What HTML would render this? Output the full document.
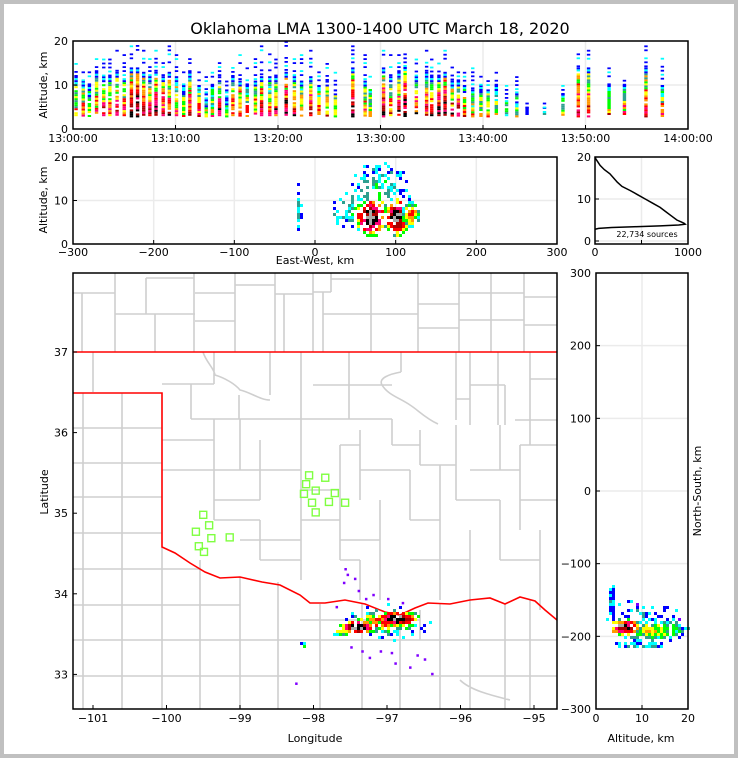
<!DOCTYPE html>
<html><head><meta charset="utf-8"><style>
html,body{margin:0;padding:0;background:#c0c0c0;}
svg{display:block;font-family:"DejaVu Sans","Liberation Sans",sans-serif;}
</style></head><body>
<svg id="fig" width="738" height="758" viewBox="0 0 738 758">
<rect x="4" y="4" width="730" height="750" fill="#fff"/>
<text x="380" y="34" font-size="16" text-anchor="middle">Oklahoma LMA 1300-1400 UTC March 18, 2020</text>
<g id="gTime"></g>
<g id="gEW"></g>
<g id="gHist"></g>
<g id="gMap"></g>
<g id="gNS"></g>
</svg>
<script>
// ---------- data ----------
const timeMin=[0.3,1,1.6,2.3,3,3.6,4.3,5,5.7,6.3,6.9,7.5,8.1,8.8,9.4,10.1,10.8,11.4,12.3,13,13.6,14.3,15,15.6,16.3,17,17.8,18.4,19.2,19.8,20.8,21.6,22.3,23.2,24,24.8,25.6,27.3,28.5,29,30.3,31,31.8,32.4,33.5,34.5,35,35.7,36.3,37,37.6,38.2,39,39.8,40.5,41.3,42.3,43.3,44.3,46,47.8,49.3,50.3,52.3,53.8,55.9,57.5];
const timeLo=[3,3,3,3,3,3,3,3,3,3,3,3,3,3,3,3,3,3,3,3,3,3,3,3,3,3,3,3,3,3,3,3,3,3,3,3,3,3,3,3,3,3,3,3,3,3,3,3,3,3,3,3,3,3,3,3,3,3,3.5,3.5,3,3,3,3,3,3,3];
const timeHi=[12,11,10,13,12,12,13,12,14,14,13,12,13,12,13,12,10,13,10,9,10,12,9,12,11,10,11,12,12,12,13,12,11,12,10,11,9,14,11,10,14,12,13,15,12,13,12,12,13,11,11,10,9,10,9,10,7,9,5,5,8,14,14,10,10,14,10];
const timeTop=[15,14,14,17,16,16,18,17,19,20,18,17,18,17,19,17,14,17,14,12,13,17,11,15,17,14,17,19,19,16,20,17,17,18,14,15,13,19,17,13,18,17,17,19,16,18,16,16,18,16,14,13,14,13,12,13,10,12,6,6,10,19,18,14,13,19,18];
const timePeak=[4,5,4,5,6,5,6,5,7,8,7,6,7,6,6,5,4,6,5,3,4,6,3,5,6,5,5,6,5,6,7,6,5,6,5,5,4,7,5,4,7,5,6,7,6,6,6,7,7,6,6,5,4,4,4,4,3,3,2,2,3,6,6,5,5,6,5];
const ewX=[-22,72,78,80,68,100,117];
const ewAlt=[9,8,14,10,6.5,6.5,7];
const ewRx=[4,55,36,30,20,17,11];
const ewRy=[5.5,5.5,5,3,4.5,4.5,3];
const ewPeak=[3,4,3,5,11,11,7];
const histAlt=[20,19.5,19,18,17,16,15,14,13,12,11,10,9,8,7,6,5,4.5,4.2,4.0,3.8,3.6,3.4,3.2,3.0,2.8];
const histCnt=[0,10,25,55,100,160,200,240,290,380,460,540,620,700,760,820,880,930,960,970,900,700,420,180,40,0];
const sourceCount="22,734 sources";
const mapLon=[-97.0,-98.16,-97.62,-97.05,-96.72,-96.88,-97.42];
const mapLat=[33.65,33.37,33.56,33.67,33.73,33.71,33.6];
const mapRx=[0.6,0.04,0.16,0.48,0.16,0.3,0.26];
const mapRy=[0.25,0.05,0.07,0.13,0.06,0.1,0.09];
const mapPeak=[3,4,6,7,7,11,11];
const sparseLon=[-97.58,-97.45,-97.4,-97.6,-97.3,-97.2,-97.0,-96.8,-96.6,-97.7,-97.5,-97.1,-96.95,-97.35,-96.5,-96.4,-96.7,-97.55,-98.25,-97.25,-96.9];
const sparseLat=[34.32,34.2,34.05,34.15,33.95,34.0,33.95,33.9,33.25,33.85,33.35,33.3,33.28,33.3,33.2,33.02,33.1,34.25,32.9,33.22,33.15];
const stationLon=[-98.06,-97.84,-98.10,-97.97,-98.13,-97.71,-98.02,-97.79,-97.57,-97.97,-99.50,-99.42,-99.60,-99.39,-99.14,-99.56,-99.49];
const stationLat=[35.47,35.44,35.36,35.28,35.24,35.25,35.13,35.14,35.13,35.01,34.98,34.85,34.77,34.69,34.70,34.59,34.52];
const nsAlt=[10,3,9,12,6,5];
const nsY=[-175,-150,-210,-190,-186,-184];
const nsRx=[8,0.8,5.5,8,3.5,2];
const nsRy=[30,28,5,16,12,7];
const nsPeak=[2,2,3,5,10,11];

// ---------- helpers ----------
const NS='http://www.w3.org/2000/svg';
const PAL=['#8000ff','#0000ff','#00ffff','#2f9f8f','#00ff00','#ffff00','#ff9900','#ff0000','#ff0077','#aa0000','#000000','#aaaaaa'];
function el(tag,attrs,parent){const e=document.createElementNS(NS,tag);for(const k in attrs)e.setAttribute(k,attrs[k]);parent.appendChild(e);return e;}
function txt(parent,x,y,s,size,anchor,rot){const t=el('text',{x:x,y:y,'font-size':size,'text-anchor':anchor||'middle'},parent);if(rot)t.setAttribute('transform','rotate(-90 '+x+' '+y+')');t.textContent=s;return t;}
function lin(d0,d1,r0,r1){return v=>r0+(v-d0)/(d1-d0)*(r1-r0);}
function frame(g,x0,y0,x1,y1,grid,xs,ys,xt,yt){
  if(grid){xt.forEach(v=>{const l=el('line',{x1:xs(v),x2:xs(v),y1:y0,y2:y1,stroke:'#ebebeb','stroke-width':1.5},g);});
    yt.forEach(v=>{const l=el('line',{x1:x0,x2:x1,y1:ys(v),y2:ys(v),stroke:'#ebebeb','stroke-width':1.5},g);});}
}
function border(g,x0,y0,x1,y1,xs,ys,xt,yt){
  const r=el('rect',{x:x0,y:y0,width:x1-x0,height:y1-y0,fill:'none',stroke:'#000','stroke-width':1.5},g);
  
  xt.forEach(v=>el('line',{x1:xs(v),x2:xs(v),y1:y1,y2:y1-4,stroke:'#000'},g));
  yt.forEach(v=>el('line',{x1:x0,x2:x0+4,y1:ys(v),y2:ys(v),stroke:'#000'},g));
}
function hsh(i,j){let h=((i+1000)*73856093)^((j+1000)*19349663);h=(h^(h>>>13))*1274126177;h=h^(h>>>16);return ((h>>>0)%1000)/1000;}
function blob(g,cx,cy,rx,ry,peak,cw,ch,minLev,dens){
  let i0=Math.floor((cx-rx)/cw),i1=Math.ceil((cx+rx)/cw),j0=Math.floor((cy-ry)/ch),j1=Math.ceil((cy+ry)/ch);
  for(let i=i0;i<=i1;i++)for(let j=j0;j<=j1;j++){
    const x=i*cw,y=j*ch;const d=Math.hypot((x-cx)/rx,(y-cy)/ry);if(d>1)continue;
    const keep=dens*(0.45+0.55*(1-d));if(hsh(i,j)>keep)continue;
    let v=peak*(1-0.7*Math.pow(d,1.6))+(hsh(j+7,i+3)-0.5)*2.2;
    let lev=Math.max(minLev,Math.min(11,Math.round(v)));
    el('rect',{x:x,y:y,width:cw,height:ch,fill:PAL[lev]},g);
  }
}

// ---------- time-height panel ----------
(function(){
  const g=document.getElementById('gTime');const x0=73,x1=688,y0=41,y1=129;
  const xs=lin(0,60,x0,x1),ys=lin(0,20,y1,y0);const xt=[0,10,20,30,40,50,60],yt=[0,10,20];
  frame(g,x0,y0,x1,y1,true,xs,ys,xt,yt);
  const m=el('g',{},g);
  timeMin.forEach((t,k)=>{
    const cx=xs(t);const lo=ys(timeLo[k]),hi=ys(timeHi[k]),top=ys(timeTop[k]);const w=3.4;
    const col=el('g',{},m);
    let j=0;
    for(let y=hi;y<lo;y+=2,j++){
      const f=(y-hi)/(lo-hi);
      if(hsh(k,j)>0.93)continue;
      let v=timePeak[k]*(0.5+0.95*f)+(hsh(j,k+50)-0.5)*4;
      if(f<0.12)v=1+(j%2);
      const lev=Math.max(1,Math.min(10,Math.round(v)));
      el('rect',{x:cx-w/2,y:y,width:w,height:2,fill:PAL[lev]},col);
    }
    j=0;
    for(let y=top;y<hi;y+=4,j++){if(hsh(k,j+40)>0.65)continue;el('rect',{x:cx-w/2,y:y,width:w,height:1.8,fill:PAL[(j+k)%4===0?2:1]},col);}
  });
  border(g,x0,y0,x1,y1,xs,ys,xt,yt);
  ['13:00:00','13:10:00','13:20:00','13:30:00','13:40:00','13:50:00','14:00:00'].forEach((s,i)=>{const t=txt(g,xs(xt[i]),142,s,11);});
  yt.forEach(v=>{const t=txt(g,68,ys(v)+4,String(v),11,'end');});
  const a=txt(g,47,85,'Altitude, km',11,'middle',true);
})();

// ---------- east-west panel ----------
(function(){
  const g=document.getElementById('gEW');const x0=73,x1=557,y0=157,y1=244;
  const xs=lin(-300,300,x0,x1),ys=lin(0,20,y1,y0);const xt=[-300,-200,-100,0,100,200,300],yt=[0,10,20];
  frame(g,x0,y0,x1,y1,true,xs,ys,xt,yt);
  const m=el('g',{},g);
  ewX.forEach((v,k)=>{const cx=xs(v),cy=ys(ewAlt[k]);blob(m,cx,cy,ewRx[k]*(x1-x0)/600,ewRy[k]*(y1-y0)/20,ewPeak[k],3,3,1,k>=1&&k<=3?0.6:1.1);});
  border(g,x0,y0,x1,y1,xs,ys,xt,yt);
  xt.forEach(v=>{const t=txt(g,xs(v),256,(v<0?'\u2212'+(-v):String(v)),11);});
  yt.forEach(v=>{const t=txt(g,68,ys(v)+4,String(v),11,'end');});
  const a=txt(g,315,264,'East-West, km',11);
  const b=txt(g,47,200,'Altitude, km',11,'middle',true);
})();

// ---------- histogram ----------
(function(){
  const g=document.getElementById('gHist');const x0=595,x1=688,y0=157,y1=244;
  const xs=lin(0,1000,x0,x1),ys=lin(0,20,y1-3,y0);const xt=[0,500,1000],yt=[0,10,20];
  frame(g,x0,y0,x1,y1,true,xs,ys,xt,yt);
  const p=el('polyline',{points:histAlt.map((a,i)=>xs(histCnt[i])+','+ys(a)).join(' '),fill:'none',stroke:'#000','stroke-width':1.5},g);
  
  border(g,x0,y0,x1,y1,xs,ys,xt,yt);
  [0,1000].forEach(v=>{const t=txt(g,xs(v),256,String(v),11);});
  yt.forEach(v=>{const t=txt(g,591,ys(v)+4,String(v),11,'end');});
  const s=txt(g,647,237,sourceCount,8);
})();

// ---------- map ----------
(function(){
  const g=document.getElementById('gMap');const x0=73,x1=557,y0=273,y1=709;
  const xs=lin(-101,-100,93,166.5),ys=lin(37,36,352,432.6);const xt=[-101,-100,-99,-98,-97,-96,-95],yt=[37,36,35,34,33];
  const cl=el('clipPath',{id:'mapclip'},g);el('rect',{x:x0,y:y0,width:x1-x0,height:y1-y0},cl);
  const c=el('g',{'clip-path':'url(#mapclip)'},g);
  const counties=el('path',{fill:'none',stroke:'#cfcfcf','stroke-width':1.6,d:
   'M73,293H115M115,273V352M82,293V352M115,314H195M146,278V314M146,278H194M155,314V352M194,273V352M195,293H235M195,321H235M235,273V352M235,285H275M275,273V352M275,294H313M284,294V352M313,273V352'+
   'M331,273V292M313,292H331M323,292V352M331,279H371M371,273V352M323,314H418M418,273V352M418,304H459M418,328H459M459,273V352M459,293H524M459,320H524M491,273V352M524,273V352M524,297H557M524,325H557'+
   'M93,352V392M162,384H214M214,352V384M191,384V419M191,419H301M270,352V395M301,352V440M239,395V419M203,352C206,362 214,368 215,375C225,378 235,384 240,390C250,392 260,400 270,400'+
   'M349,352V419M313,385H349M349,385H392M401,352V372M456,352V420M470,352V425M498,352V425M530,352V420M530,379H557M456,399H470M470,385H505M505,385V425M515,420H557'+
   'M401,372C390,374 378,378 382,385C388,395 400,398 410,405C418,410 425,418 438,424M301,419H392'+
   'M162,440H214M214,419V470M162,470H260M240,419V470M260,440V500M214,470V520M214,500H260M260,470H301M301,440V470M301,470V520M301,490H340M340,445V560M301,520H340M340,445H360M360,430V500M360,470H410M392,419V445M392,445H420M410,470V520M420,430V465M420,465H456M456,425V500M440,465V520M456,500H500M500,425V470M470,470H520M520,445V530M530,420V445M520,445H557M520,500H557'+
   'M214,520H260M260,520V560M240,540H301M301,520V580M340,540H380M380,500V600M410,520H440M410,560H470M440,520V600M470,530V600M500,500V560M500,560H540M540,530V610M340,560H360M360,560V600M260,560H301'+
   'M83,393V709M122,393V709M73,428H162M73,463H162M73,497H162M73,533H162M73,569H200M73,605H240M73,640H557M73,676H557M162,547V709M200,560V709M240,577V709M278,582V709M320,604V709M362,604V709M400,615V709M440,604V709M470,600V709M505,604V709M530,600V709M300,620H420M420,610V640M460,680C470,690 490,695 510,700'}, c);
  
  const st=el('path',{fill:'none',stroke:'#ff0000','stroke-width':1.6,d:'M73,352H557M73,393H162V547L175,553L190,563L205,572L220,578L240,577L262,582L280,585L300,595L310,603L325,603L345,600L365,604L385,612L400,615L415,608L428,603L450,604L470,600L490,598L505,604L520,597L535,601L545,610L557,620'},c);
  
  const m=el('g',{},c);
  mapLon.forEach((v,k)=>{blob(m,xs(v),ys(mapLat[k]),mapRx[k]*73.5,mapRy[k]*80.6,mapPeak[k],3,3,k===0?0:1,k===0?0.3:1.1);});
  sparseLon.forEach((v,k)=>{const r=el('rect',{x:xs(v),y:ys(sparseLat[k]),width:2.5,height:2.5,fill:PAL[0]},m);});
  stationLon.forEach((v,k)=>{const r=el('rect',{x:xs(v)-3.5,y:ys(stationLat[k])-3.5,width:7,height:7,fill:'none',stroke:'#7fff40','stroke-width':1.4},c);});
  border(g,x0,y0,x1,y1,xs,ys,xt,yt);
  xt.forEach(v=>{const t=txt(g,xs(v),722,'\u2212'+(-v),11);});
  yt.forEach(v=>{const t=txt(g,68,ys(v)+4,String(v),11,'end');});
  const a=txt(g,315,742,'Longitude',11);
  const b=txt(g,48,492,'Latitude',11,'middle',true);
})();

// ---------- north-south panel ----------
(function(){
  const g=document.getElementById('gNS');const x0=596,x1=688,y0=273,y1=709;
  const xs=lin(0,20,x0,x1),ys=lin(-300,300,y1,y0);const xt=[0,10,20],yt=[-300,-200,-100,0,100,200,300];
  frame(g,x0,y0,x1,y1,true,xs,ys,xt,yt);
  const m=el('g',{},g);
  nsAlt.forEach((v,k)=>{blob(m,xs(v),ys(nsY[k]),nsRx[k]*(x1-x0)/20,nsRy[k]*(y1-y0)/600,nsPeak[k],3,3,k===0?0:1,k===0?0.3:1.1);});
  border(g,x0,y0,x1,y1,xs,ys,xt,yt);
  xt.forEach(v=>{const t=txt(g,xs(v),722,String(v),11);});
  yt.forEach(v=>{const t=txt(g,591,ys(v)+4,(v<0?'\u2212'+(-v):String(v)),11,'end');});
  const a=txt(g,641,742,'Altitude, km',11);
  const b=txt(g,701,491,'North-South, km',11,'middle',true);
})();
</script>
</body></html>
